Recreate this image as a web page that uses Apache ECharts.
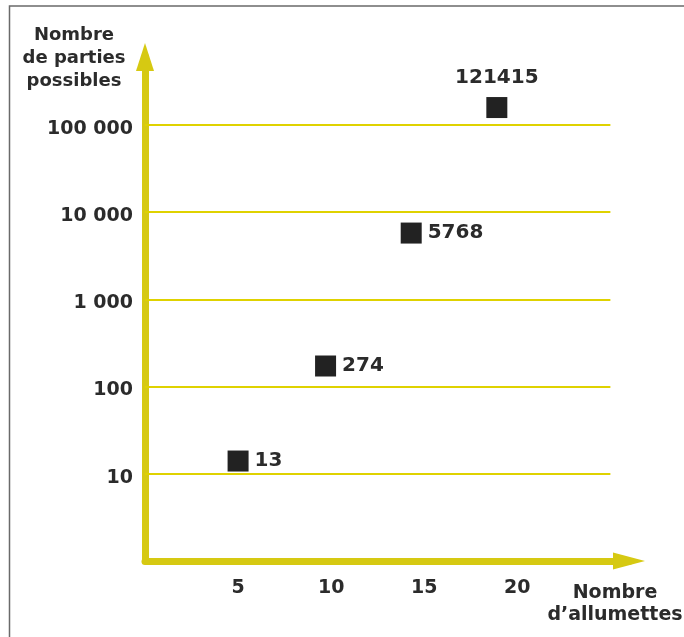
<!DOCTYPE html>
<html>
<head>
<meta charset="utf-8">
<script src="https://cdn.jsdelivr.net/npm/echarts@6/dist/echarts.min.js"></script>
<style>
  html, body { margin: 0; background: #fff; }
  #chart { width: 684px; height: 637px; }
</style>
</head>
<body>
<div id="chart"></div>
<script>
// where the squares sit in the drawing, and what is printed next to them
const matchCounts = [5, 9.7, 14.3, 18.9];
const gamePositions = [14, 172, 5750, 158000];
const gameLabels = ['13', '274', '5768', '121415'];

const yTickValues = [10, 100, 1000, 10000, 100000];
const yTickLabels = ['10', '100', '1 000', '10 000', '100 000'];
const xTickLabels = [5, 10, 15, 20];

const FONT = 'DejaVu Sans';
const INK = '#2b2b2b';
const AXIS_YELLOW = '#d6c912';
const GRID_YELLOW = '#dfd200';

const myChart = echarts.init(document.getElementById('chart'));

const points = matchCounts.map((x, i) => ({
  value: [x, gamePositions[i]],
  label: i === matchCounts.length - 1
    ? { position: 'top', distance: 9 }
    : { position: 'right', distance: 6 }
}));

const option = {
  backgroundColor: '#fff',
  animation: false,
  grid: { left: 145, right: 55, top: 57, bottom: 76 },
  xAxis: {
    type: 'value',
    min: 0,
    max: 26,
    interval: 5,
    splitLine: { show: false },
    axisTick: { show: false },
    axisLine: {
      lineStyle: { color: AXIS_YELLOW, width: 7 },
      symbol: ['none', 'triangle'],
      symbolSize: [17, 32]
    },
    axisLabel: {
      margin: 18,
      color: INK,
      fontFamily: FONT,
      fontWeight: 'bold',
      fontSize: 19,
      formatter: v => xTickLabels.includes(v) ? String(v) : ''
    }
  },
  yAxis: {
    type: 'log',
    logBase: 10,
    min: 1,
    max: 600000,
    splitLine: { show: false },
    axisTick: { show: false },
    axisLine: {
      lineStyle: { color: AXIS_YELLOW, width: 7 },
      symbol: ['none', 'triangle'],
      symbolSize: [18, 28]
    },
    axisLabel: {
      margin: 12,
      verticalAlign: 'top',
      lineHeight: 8,
      color: INK,
      fontFamily: FONT,
      fontWeight: 'bold',
      fontSize: 19,
      formatter: v => {
        const i = yTickValues.indexOf(Math.round(v));
        return i >= 0 ? yTickLabels[i] : '';
      }
    }
  },
  graphic: [
    {
      type: 'rect',
      silent: true,
      shape: { x: 9.5, y: 6, width: 720, height: 700 },
      style: { fill: 'none', stroke: '#6a6a6a', lineWidth: 1.5 }
    },
    {
      type: 'text',
      x: 74, y: 24,
      silent: true,
      style: {
        text: 'Nombre\nde parties\npossibles',
        align: 'center',
        verticalAlign: 'top',
        fill: INK,
        font: 'bold 18px "DejaVu Sans"',
        lineHeight: 23
      }
    },
    {
      type: 'text',
      x: 615, y: 582,
      silent: true,
      style: {
        text: 'Nombre\nd’allumettes',
        align: 'center',
        verticalAlign: 'top',
        fill: INK,
        font: 'bold 19px "DejaVu Sans"',
        lineHeight: 22
      }
    }
  ],
  series: [
    {
      type: 'scatter',
      symbol: 'rect',
      symbolSize: 21,
      itemStyle: { color: '#222', opacity: 1 },
      data: points,
      label: {
        show: true,
        color: INK,
        fontFamily: FONT,
        fontWeight: 'bold',
        fontSize: 20,
        formatter: p => gameLabels[p.dataIndex]
      },
      markLine: {
        silent: true,
        symbol: 'none',
        label: { show: false },
        lineStyle: { color: GRID_YELLOW, width: 2, type: 'solid', opacity: 1 },
        data: yTickValues.map(v => [{ coord: [0, v] }, { coord: [25, v] }])
      }
    }
  ]
};

myChart.setOption(option);
</script>
</body>
</html>
